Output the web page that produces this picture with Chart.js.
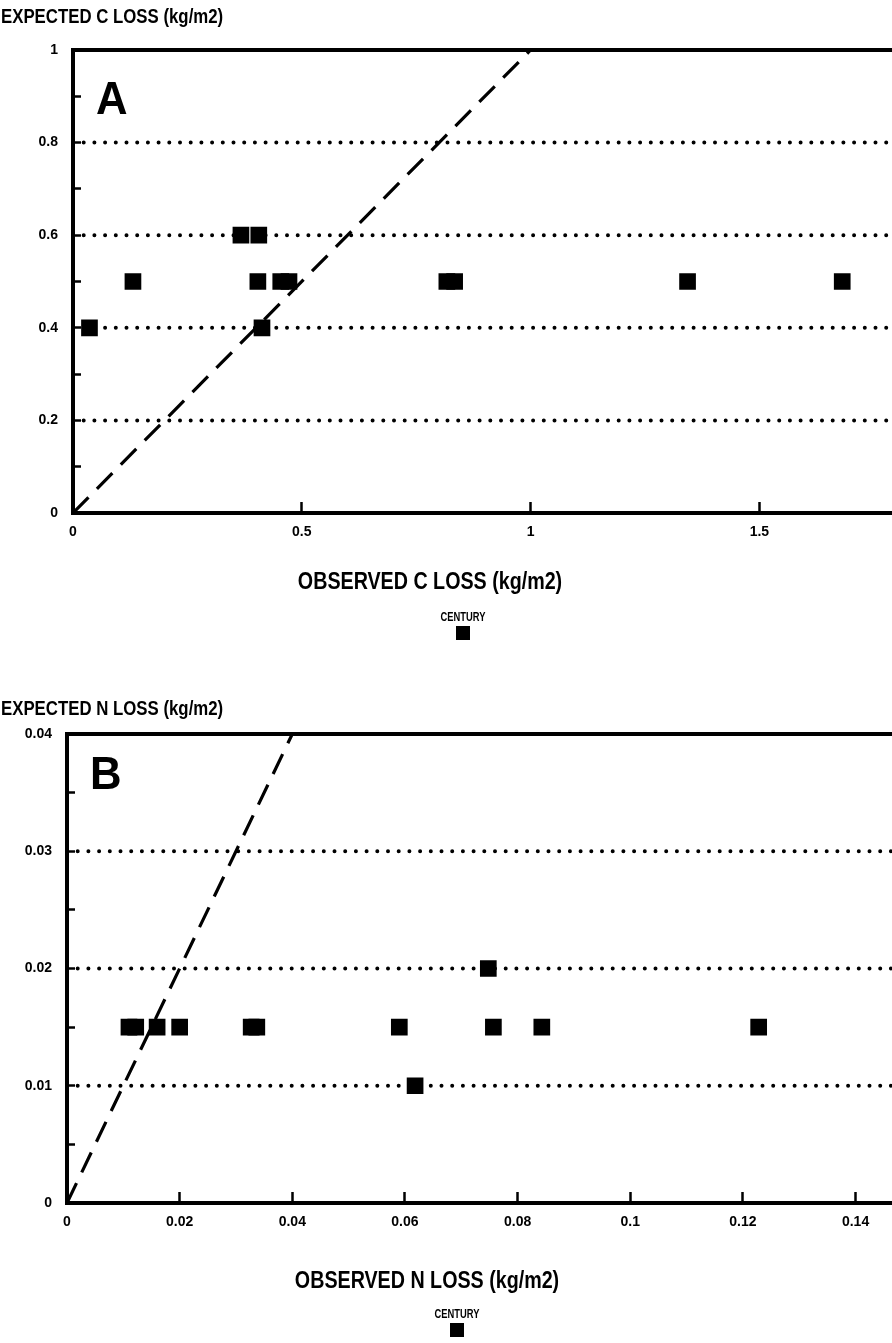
<!DOCTYPE html>
<html>
<head>
<meta charset="utf-8">
<script src="https://cdn.jsdelivr.net/npm/chart.js@4/dist/chart.umd.min.js"></script>
<style>
  html, body { margin: 0; padding: 0; background: #fff; overflow: hidden; }
  .painel { position: relative; width: 892px; overflow: hidden; }
</style>
</head>
<body>
<div class="painel" style="height:660px"><div style="width:1000px;height:660px"><canvas id="graficoC"></canvas></div></div>
<div class="painel" style="height:683px"><div style="width:980px;height:683px"><canvas id="graficoN"></canvas></div></div>
<script>
// Dados do painel A (carbono)
const cObservado = [0.036, 0.131, 0.367, 0.406, 0.404, 0.454, 0.472, 0.413, 0.817, 0.834, 1.343, 1.681];
const cEsperado = [0.4, 0.5, 0.6, 0.6, 0.5, 0.5, 0.5, 0.4, 0.5, 0.5, 0.5, 0.5];
const cTicksX = [0, 0.5, 1, 1.5, 2];
const cRotulosX = ['0', '0.5', '1', '1.5', '2'];
const cTicksY = [0, 0.1, 0.2, 0.3, 0.4, 0.5, 0.6, 0.7, 0.8, 0.9, 1];
const cRotulosY = ['0', '', '0.2', '', '0.4', '', '0.6', '', '0.8', '', '1'];
const cGrade = [0.2, 0.4, 0.6, 0.8];
const cDiagonal = [0, 1];

// Dados do painel B (nitrogênio)
const nObservado = [0.011, 0.0122, 0.016, 0.020, 0.0327, 0.0337, 0.059, 0.0757, 0.0843, 0.1228, 0.0618, 0.0748];
const nEsperado = [0.015, 0.015, 0.015, 0.015, 0.015, 0.015, 0.015, 0.015, 0.015, 0.015, 0.01, 0.02];
const nTicksX = [0, 0.02, 0.04, 0.06, 0.08, 0.1, 0.12, 0.14, 0.16];
const nRotulosX = ['0', '0.02', '0.04', '0.06', '0.08', '0.1', '0.12', '0.14', '0.16'];
const nTicksY = [0, 0.005, 0.01, 0.015, 0.02, 0.025, 0.03, 0.035, 0.04];
const nRotulosY = ['0', '', '0.01', '', '0.02', '', '0.03', '', '0.04'];
const nGrade = [0.01, 0.02, 0.03];
const nDiagonal = [0, 0.04];

const FONTE = '"Liberation Sans", Arial, sans-serif';

// Texto estreito (a fonte original é condensada)
function textoEstreito(ctx, texto, x, y, fonte, escala, alinhamento) {
  ctx.save();
  ctx.font = fonte;
  ctx.textAlign = alinhamento;
  ctx.translate(x, y);
  ctx.scale(escala, 1);
  ctx.fillText(texto, 0, 0);
  ctx.restore();
}

// Plugin para títulos, letra do painel e legenda
const textoPainel = {
  id: 'textoPainel',
  afterDraw(chart, args, o) {
    const { ctx, chartArea } = chart;
    ctx.save();
    ctx.fillStyle = '#000';
    ctx.textBaseline = 'alphabetic';
    textoEstreito(ctx, o.tituloY, 1, chartArea.top + o.tituloYDy, 'bold 21px ' + FONTE, 0.8, 'left');
    textoEstreito(ctx, o.letra, chartArea.left + 23, chartArea.top + o.letraDy, 'bold 46px ' + FONTE, 0.95, 'left');
    textoEstreito(ctx, o.tituloX, o.centroTitulo, chartArea.bottom + o.tituloDy, 'bold 24px ' + FONTE, 0.82, 'center');
    textoEstreito(ctx, o.legenda, o.centroLegenda, chartArea.bottom + o.legendaDy, 'bold 12px ' + FONTE, 0.78, 'center');
    ctx.fillRect(o.centroLegenda - 7, chartArea.bottom + o.legendaDy + 5, 14, 14);
    ctx.restore();
  }
};

// Função para criar cada painel
function criarGrafico(id, p) {
  const xMin = p.ticksX[0], xMax = p.ticksX[p.ticksX.length - 1];
  const yMin = p.ticksY[0], yMax = p.ticksY[p.ticksY.length - 1];
  const pontos = p.obs.map((x, i) => ({ x: x, y: p.esp[i] }));
  const grade = p.grade.map(g => ({
    data: [{ x: xMin, y: g }, { x: xMax, y: g }],
    showLine: true,
    borderColor: '#000',
    borderWidth: 4,
    borderDash: [0, 10.7],
    borderCapStyle: 'round',
    pointRadius: 0
  }));
  const diagonal = {
    data: p.diagonal.map(v => ({ x: v, y: v })),
    showLine: true,
    borderColor: '#000',
    borderWidth: 3.2,
    borderDash: [22, 12],
    pointRadius: 0
  };
  const fonteTick = { family: FONTE, size: 14, weight: 'bold' };

  return new Chart(document.getElementById(id), {
    type: 'scatter',
    data: {
      datasets: [
        { label: 'CENTURY', data: pontos, pointStyle: 'rect', pointRadius: 11.8, backgroundColor: '#000', borderWidth: 0 },
        diagonal,
        ...grade
      ]
    },
    options: {
      responsive: true,
      maintainAspectRatio: false,
      animation: false,
      layout: { padding: { left: 0, right: p.padDir, top: p.padTopo, bottom: 0 } },
      plugins: {
        legend: { display: false },
        tooltip: { enabled: false },
        title: { display: false },
        textoPainel: p.texto
      },
      scales: {
        x: {
          type: 'linear',
          position: 'bottom',
          min: xMin,
          max: xMax,
          afterBuildTicks: s => { s.ticks = p.ticksX.map(v => ({ value: v })); },
          afterFit: s => { s.height = p.alturaX; s.paddingLeft = 0; s.paddingRight = 0; },
          ticks: { color: '#000', font: fonteTick, padding: 22, maxRotation: 0, autoSkip: false, callback: (v, i) => p.rotulosX[i] },
          grid: { drawOnChartArea: false, tickLength: -11, tickWidth: 2.5, tickColor: '#000' },
          border: { color: '#000', width: 4 }
        },
        x2: {
          type: 'linear',
          position: 'top',
          min: xMin,
          max: xMax,
          afterFit: s => { s.height = 0; s.paddingLeft = 0; s.paddingRight = 0; },
          ticks: { display: false },
          grid: { drawOnChartArea: false, drawTicks: false },
          border: { color: '#000', width: 4 }
        },
        y: {
          type: 'linear',
          min: yMin,
          max: yMax,
          afterBuildTicks: s => { s.ticks = p.ticksY.map(v => ({ value: v })); },
          afterFit: s => { s.width = p.larguraY; s.paddingTop = 0; s.paddingBottom = 0; },
          ticks: { color: '#000', font: fonteTick, padding: 23, autoSkip: false, callback: (v, i) => p.rotulosY[i] },
          grid: { drawOnChartArea: false, tickLength: -8, tickWidth: 2.5, tickColor: '#000' },
          border: { color: '#000', width: 4 }
        }
      }
    },
    plugins: [textoPainel]
  });
}

criarGrafico('graficoC', {
  obs: cObservado, esp: cEsperado,
  ticksX: cTicksX, rotulosX: cRotulosX, ticksY: cTicksY, rotulosY: cRotulosY,
  grade: cGrade, diagonal: cDiagonal,
  larguraY: 73, alturaX: 147, padDir: 11, padTopo: 50,
  texto: { tituloY: 'EXPECTED C LOSS (kg/m2)', tituloYDy: -27, letra: 'A', letraDy: 64, tituloX: 'OBSERVED C LOSS (kg/m2)', centroTitulo: 430, tituloDy: 76, legenda: 'CENTURY', centroLegenda: 463, legendaDy: 108 }
});

criarGrafico('graficoN', {
  obs: nObservado, esp: nEsperado,
  ticksX: nTicksX, rotulosX: nRotulosX, ticksY: nTicksY, rotulosY: nRotulosY,
  grade: nGrade, diagonal: nDiagonal,
  larguraY: 67, alturaX: 140, padDir: 9, padTopo: 74,
  texto: { tituloY: 'EXPECTED N LOSS (kg/m2)', tituloYDy: -19, letra: 'B', letraDy: 55, tituloX: 'OBSERVED N LOSS (kg/m2)', centroTitulo: 427, tituloDy: 85, legenda: 'CENTURY', centroLegenda: 457, legendaDy: 115 }
});
</script>
</body>
</html>
